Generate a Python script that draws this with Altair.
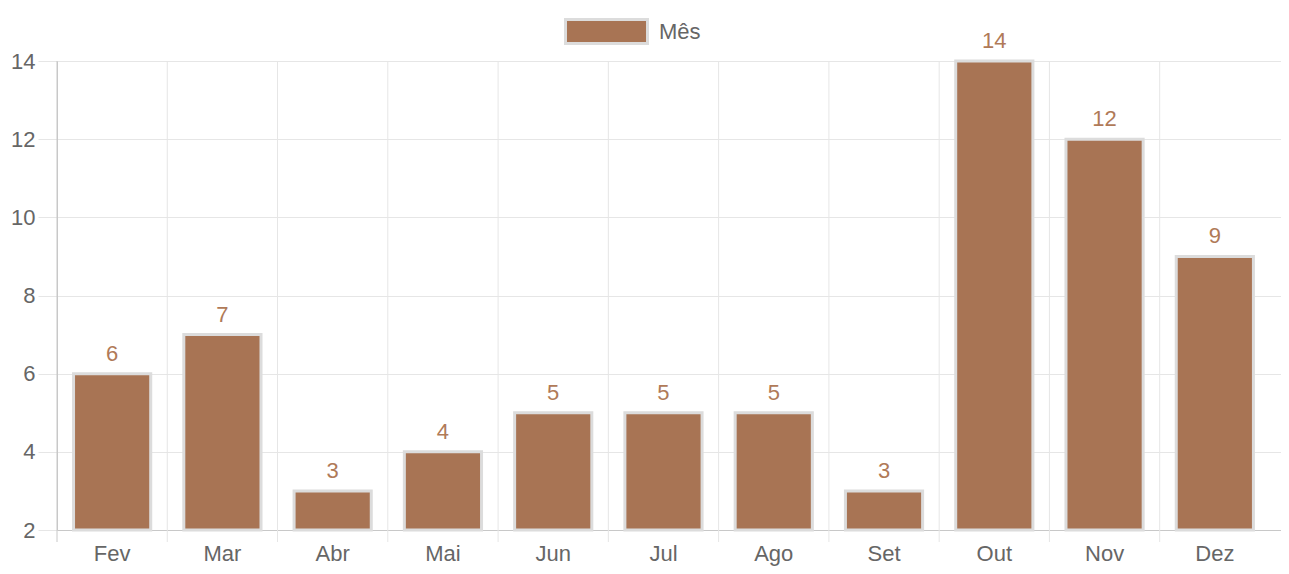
import altair as alt
import pandas as pd

meses = ["Fev", "Mar", "Abr", "Mai", "Jun", "Jul", "Ago", "Set", "Out", "Nov", "Dez"]
valores = [6, 7, 3, 4, 5, 5, 5, 3, 14, 12, 9]
serie = "Mês"
y_ticks = [2, 4, 6, 8, 10, 12, 14]

df = pd.DataFrame({"mes": meses, "valor": valores, "serie": [serie] * len(meses)})

FONT = "Liberation Sans"
GRID = "#e6e6e6"
AXIS = "#c8c8c8"
BAR = "#a87454"
FS = 22
H = 469
XTICK = 12

xscale = alt.Scale(paddingInner=0, paddingOuter=0.05, align=0)
xaxis = alt.Axis(grid=False, tickColor="transparent", bandPosition=0.5,
                 labelAlign="center", labelBaseline="top",
                 tickSize=XTICK, labelPadding=1, domainColor=AXIS, labelAngle=0,
                 labelFontSize=FS, labelColor="#666666", labelFont=FONT)

x = alt.X("mes:N", sort=meses, title=None, scale=xscale, axis=xaxis)
y = alt.Y("valor:Q", title=None,
          scale=alt.Scale(domain=[2, 14], nice=False, zero=False),
          axis=alt.Axis(values=y_ticks, grid=True, gridColor=GRID, tickColor=GRID,
                        tickSize=19, labelPadding=3, domainColor=AXIS,
                        labelFontSize=FS, labelColor="#666666", labelFont=FONT))

# vertical grid lines on the category boundaries (band starts)
vgrid = alt.Chart(df).mark_rule(strokeWidth=1).encode(
    x=alt.X("mes:N", sort=meses, bandPosition=0, title=None, scale=xscale, axis=xaxis),
    y=alt.value(0), y2=alt.value(H + XTICK),
    color=alt.condition(alt.datum.mes == meses[0], alt.value(AXIS), alt.value(GRID)),
)

bars = alt.Chart(df).mark_bar(
    width=alt.RelativeBandSize(0.7), stroke="#dcdcdc", strokeWidth=3
).encode(
    x=x, y=y, y2=alt.datum(2),
    color=alt.Color("serie:N", title=None,
                    scale=alt.Scale(domain=[serie], range=[BAR]),
                    legend=alt.Legend(orient="none", legendX=507, legendY=-72,
                                      symbolType="M-1,-0.29H1V0.29H-1Z", symbolSize=6724,
                                      symbolStrokeColor="#dcdcdc", symbolStrokeWidth=3,
                                      symbolOpacity=1, labelOffset=10, padding=0,
                                      labelFontSize=FS, labelColor="#666666", labelFont=FONT))
)

labels = alt.Chart(df).mark_text(
    dy=-13, baseline="alphabetic", fontSize=FS, font=FONT, color="#b07a58"
).encode(x=alt.X("mes:N", sort=meses), y="valor:Q", text="valor:Q")

chart = alt.layer(vgrid, bars, labels).properties(
    width=1224, height=H,
    autosize=alt.AutoSizeParams(type="none"),
    padding={"left": 49, "top": 53, "right": 0, "bottom": 36},
).configure_view(stroke=None)

chart.save("out.html", embed_options={"renderer": "svg", "actions": False})
